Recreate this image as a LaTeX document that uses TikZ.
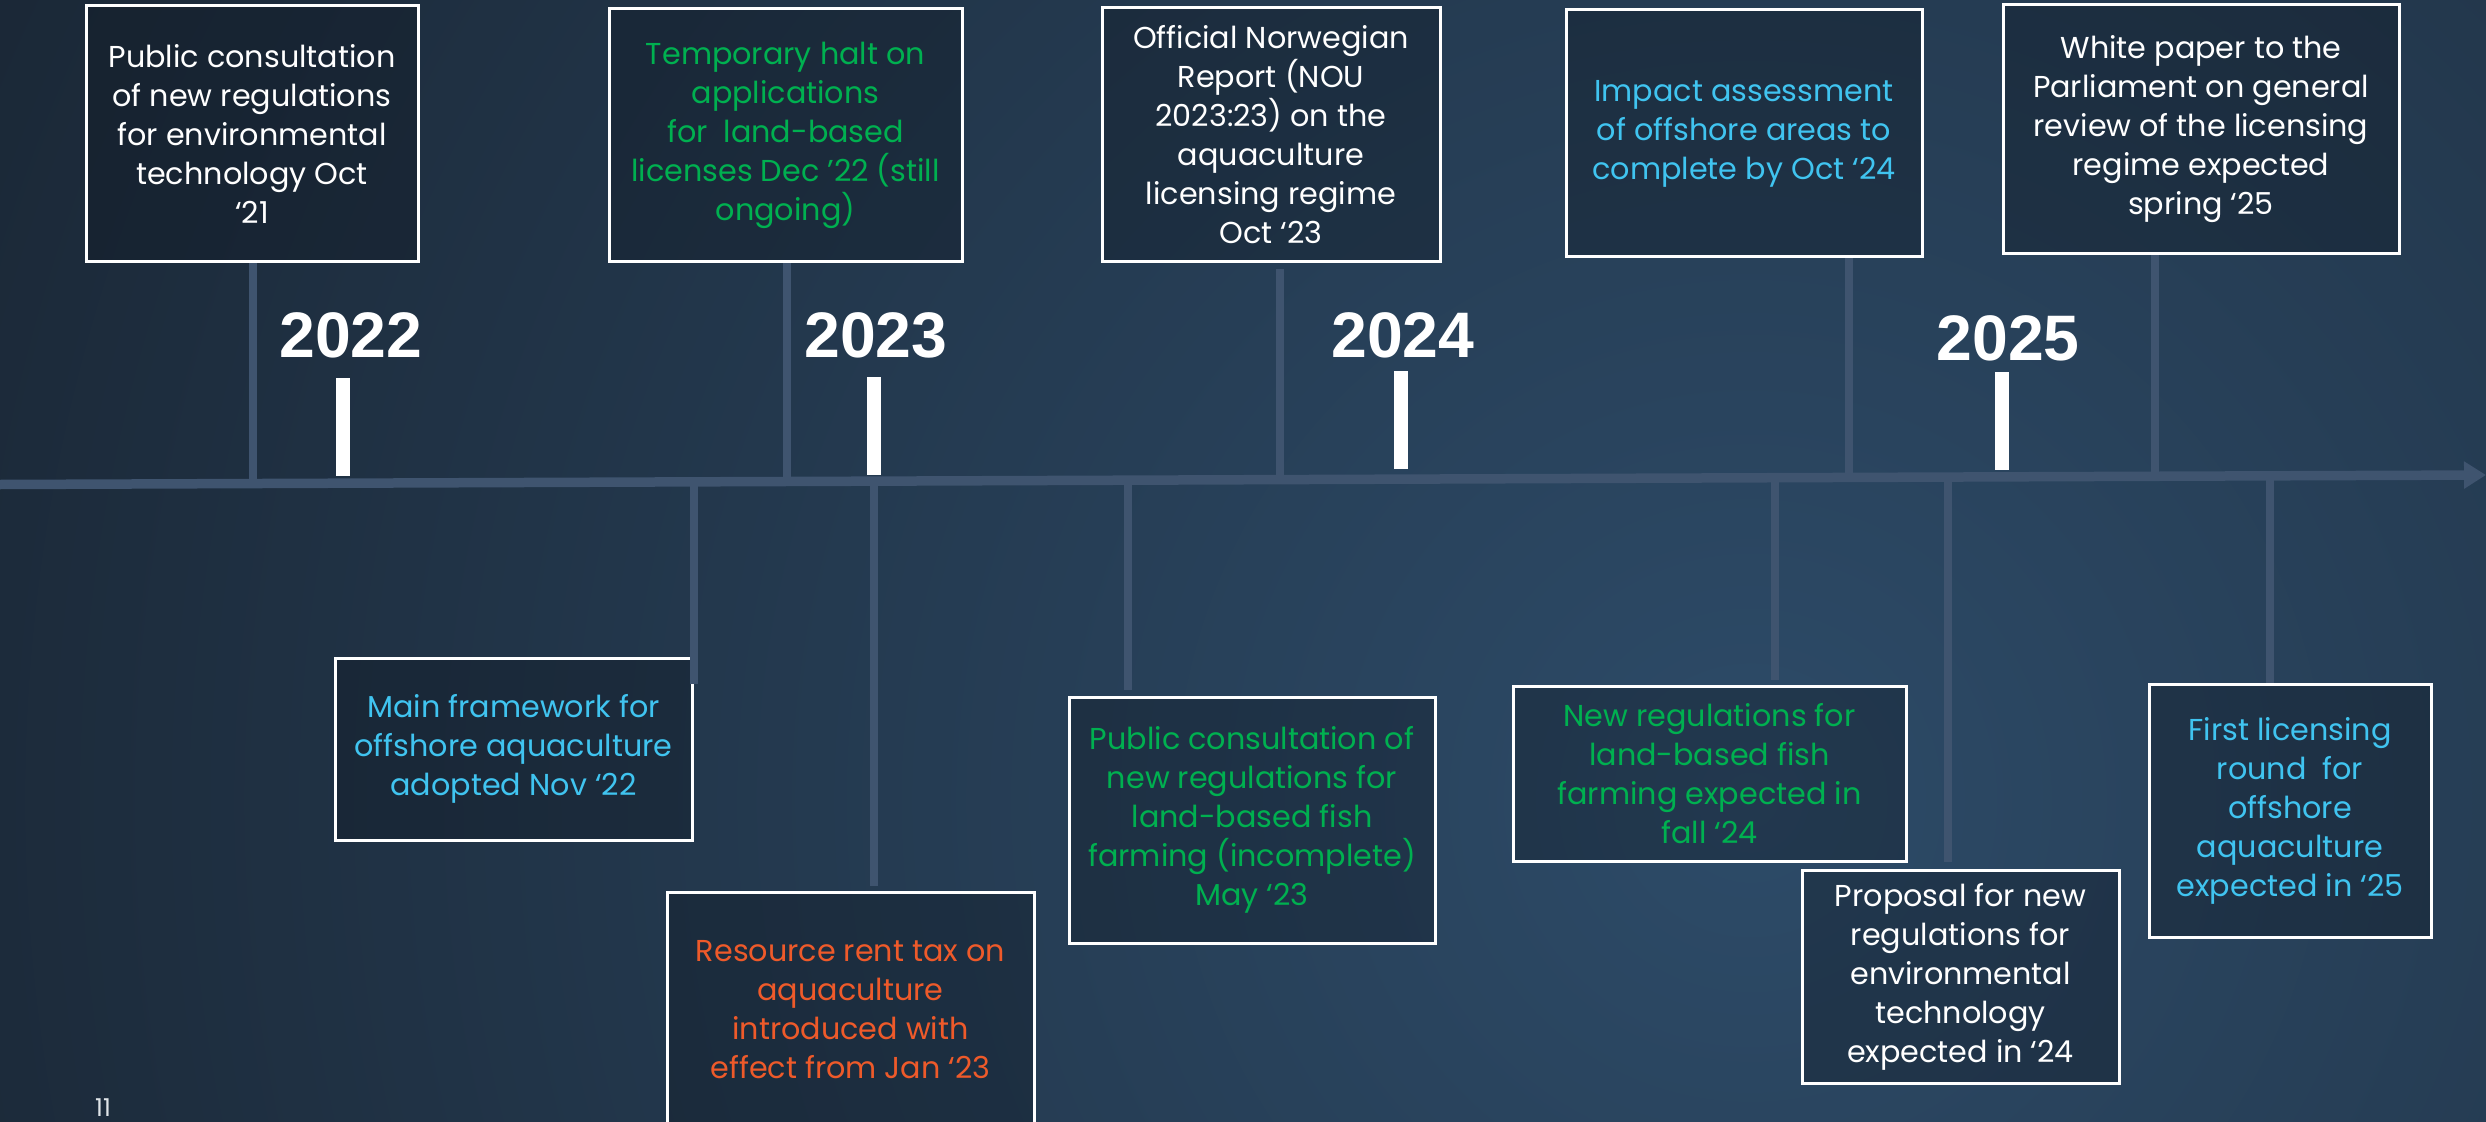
\documentclass[tikz,border=0pt]{standalone}
\usepackage{fontspec}
\setmainfont{Poppins}
\newfontfamily\yearfont{Liberation Sans}
\usetikzlibrary{arrows.meta,calc}
\definecolor{bgout}{HTML}{17212D}
\definecolor{bgin}{HTML}{2D4B68}
\definecolor{axisgray}{HTML}{3F546F}
\definecolor{evgreen}{HTML}{00B050}
\definecolor{evcyan}{HTML}{40C4F0}
\definecolor{evorange}{HTML}{EE5A2A}
\definecolor{boxfill}{HTML}{0E1620}
\begin{document}
\begin{tikzpicture}[x=0.1mm,y=-0.1mm,
        evbox/.style={draw=white, line width=0.3mm, fill=boxfill, fill opacity=0.35, text opacity=1,
            align=center, inner sep=0pt, font=\fontsize{8.6}{11.1}\selectfont},
        stem/.style={axisgray, line width=0.75mm},
        yearlbl/.style={text=white, font=\yearfont\bfseries\fontsize{18.3}{20}\selectfont},
        yeartick/.style={white, line width=1.4mm}]
            \useasboundingbox (0,0) rectangle (2486,1122);
            \fill[bgout] (0,0) rectangle (2486,1122);
            \begin{scope}
                \clip (0,0) rectangle (2486,1122);
                \shade[inner color=bgin, outer color=bgout] (1750,800) circle (2300);
            \end{scope}
            % axis
            \coordinate (axl) at (0,484.5);
            \coordinate (axr) at (2486,475);
            \draw[axisgray, line width=0.95mm, -{Triangle[length=2.2mm,width=2.6mm]}] (axl) -- (axr);
            % years
            \draw (351,335) node[yearlbl](y22) {2022};
            \draw (876,335) node[yearlbl](y23) {2023};
            \draw (1403,335) node[yearlbl](y24) {2024};
            \draw (2008,338) node[yearlbl](y25) {2025};
            \draw[yeartick] (343,378) -- (343,476);
            \draw[yeartick] (874,377) -- (874,475);
            \draw[yeartick] (1401,371) -- (1401,469);
            \draw[yeartick] (2002,372) -- (2002,470);
            % above the axis
            \draw (252,134) node[evbox, text=white, minimum width=33.2mm, minimum height=25.6mm](pubenv)
                {Public consultation\\of new regulations\\for environmental\\technology Oct\\‘21};
            \draw (785.5,135.5) node[evbox, text=evgreen, minimum width=35.3mm, minimum height=25.3mm](halt)
                {Temporary halt on\\applications\\for\ \ land-based\\licenses Dec ’22 (still\\ongoing)};
            \draw (1271,135) node[evbox, text=white, minimum width=33.8mm, minimum height=25.4mm](nou)
                {Official Norwegian\\Report (NOU\\2023:23) on the\\aquaculture\\licensing regime\\Oct ‘23};
            \draw (1744,133.5) node[evbox, text=evcyan, minimum width=35.6mm, minimum height=24.7mm](impact)
                {Impact assessment\\of offshore areas to\\complete by Oct ‘24};
            \draw (2201,129.5) node[evbox, text=white, minimum width=39.6mm, minimum height=24.9mm](white)
                {White paper to the\\Parliament on general\\review of the licensing\\regime expected\\spring ‘25};
            % below the axis
            \draw (513.5,749) node[evbox, text=evcyan, minimum width=35.7mm, minimum height=18.2mm](frame)
                {Main framework for\\offshore aquaculture\\adopted Nov ‘22};
            \draw (850.5,1010) node[evbox, text=evorange, minimum width=36.7mm, minimum height=23.6mm](tax)
                {Resource rent tax on\\aquaculture\\introduced with\\effect from Jan ‘23};
            \draw (1252,820) node[evbox, text=evgreen, minimum width=36.6mm, minimum height=24.6mm](publand)
                {Public consultation of\\new regulations for\\land-based fish\\farming (incomplete)\\May ‘23};
            \draw (1709.5,773.5) node[evbox, text=evgreen, minimum width=39.3mm, minimum height=17.5mm](landreg)
                {New regulations for\\land-based fish\\farming expected in\\fall ‘24};
            \draw (1960.5,976.5) node[evbox, text=white, minimum width=31.7mm, minimum height=21.3mm](proposal)
                {Proposal for new\\regulations for\\environmental\\technology\\expected in ‘24};
            \draw (2290,810.5) node[evbox, text=evcyan, minimum width=28.2mm, minimum height=25.3mm](round)
                {First licensing\\round\ \ for\\offshore\\aquaculture\\expected in ‘25};
            % stems
            \coordinate (a1) at ($(axl)!253/2486!(axr)$);
            \coordinate (a2) at ($(axl)!787/2486!(axr)$);
            \coordinate (a3) at ($(axl)!1280/2486!(axr)$);
            \coordinate (a4) at ($(axl)!1849/2486!(axr)$);
            \coordinate (a5) at ($(axl)!2155/2486!(axr)$);
            \coordinate (b1) at ($(axl)!694/2486!(axr)$);
            \coordinate (b2) at ($(axl)!874/2486!(axr)$);
            \coordinate (b3) at ($(axl)!1128/2486!(axr)$);
            \coordinate (b4) at ($(axl)!1775/2486!(axr)$);
            \coordinate (b5) at ($(axl)!1948/2486!(axr)$);
            \coordinate (b6) at ($(axl)!2270/2486!(axr)$);
            \draw[stem] (a1) -- (a1 |- pubenv.south);
            \draw[stem] (a2) -- (a2 |- halt.south);
            \draw[stem] (a3) -- ($(a3 |- nou.south)+(0,6)$);
            \draw[stem] (a4) -- (a4 |- impact.south);
            \draw[stem] (a5) -- (a5 |- white.south);
            \draw[stem] (b1) -- ($(b1 |- frame.north)+(0,27)$);
            \draw[stem] (b2) -- ($(b2 |- tax.north)+(0,-5)$);
            \draw[stem] (b3) -- ($(b3 |- publand.north)+(0,-6)$);
            \draw[stem] (b4) -- ($(b4 |- landreg.north)+(0,-5)$);
            \draw[stem] (b5) -- ($(b5 |- proposal.north)+(0,-7)$);
            \draw[stem] (b6) -- (b6 |- round.north);
            \draw (103,1108) node[text=white!85!bgin, font=\fontsize{7}{8}\selectfont](page) {11};
        \end{tikzpicture}
\end{document}
